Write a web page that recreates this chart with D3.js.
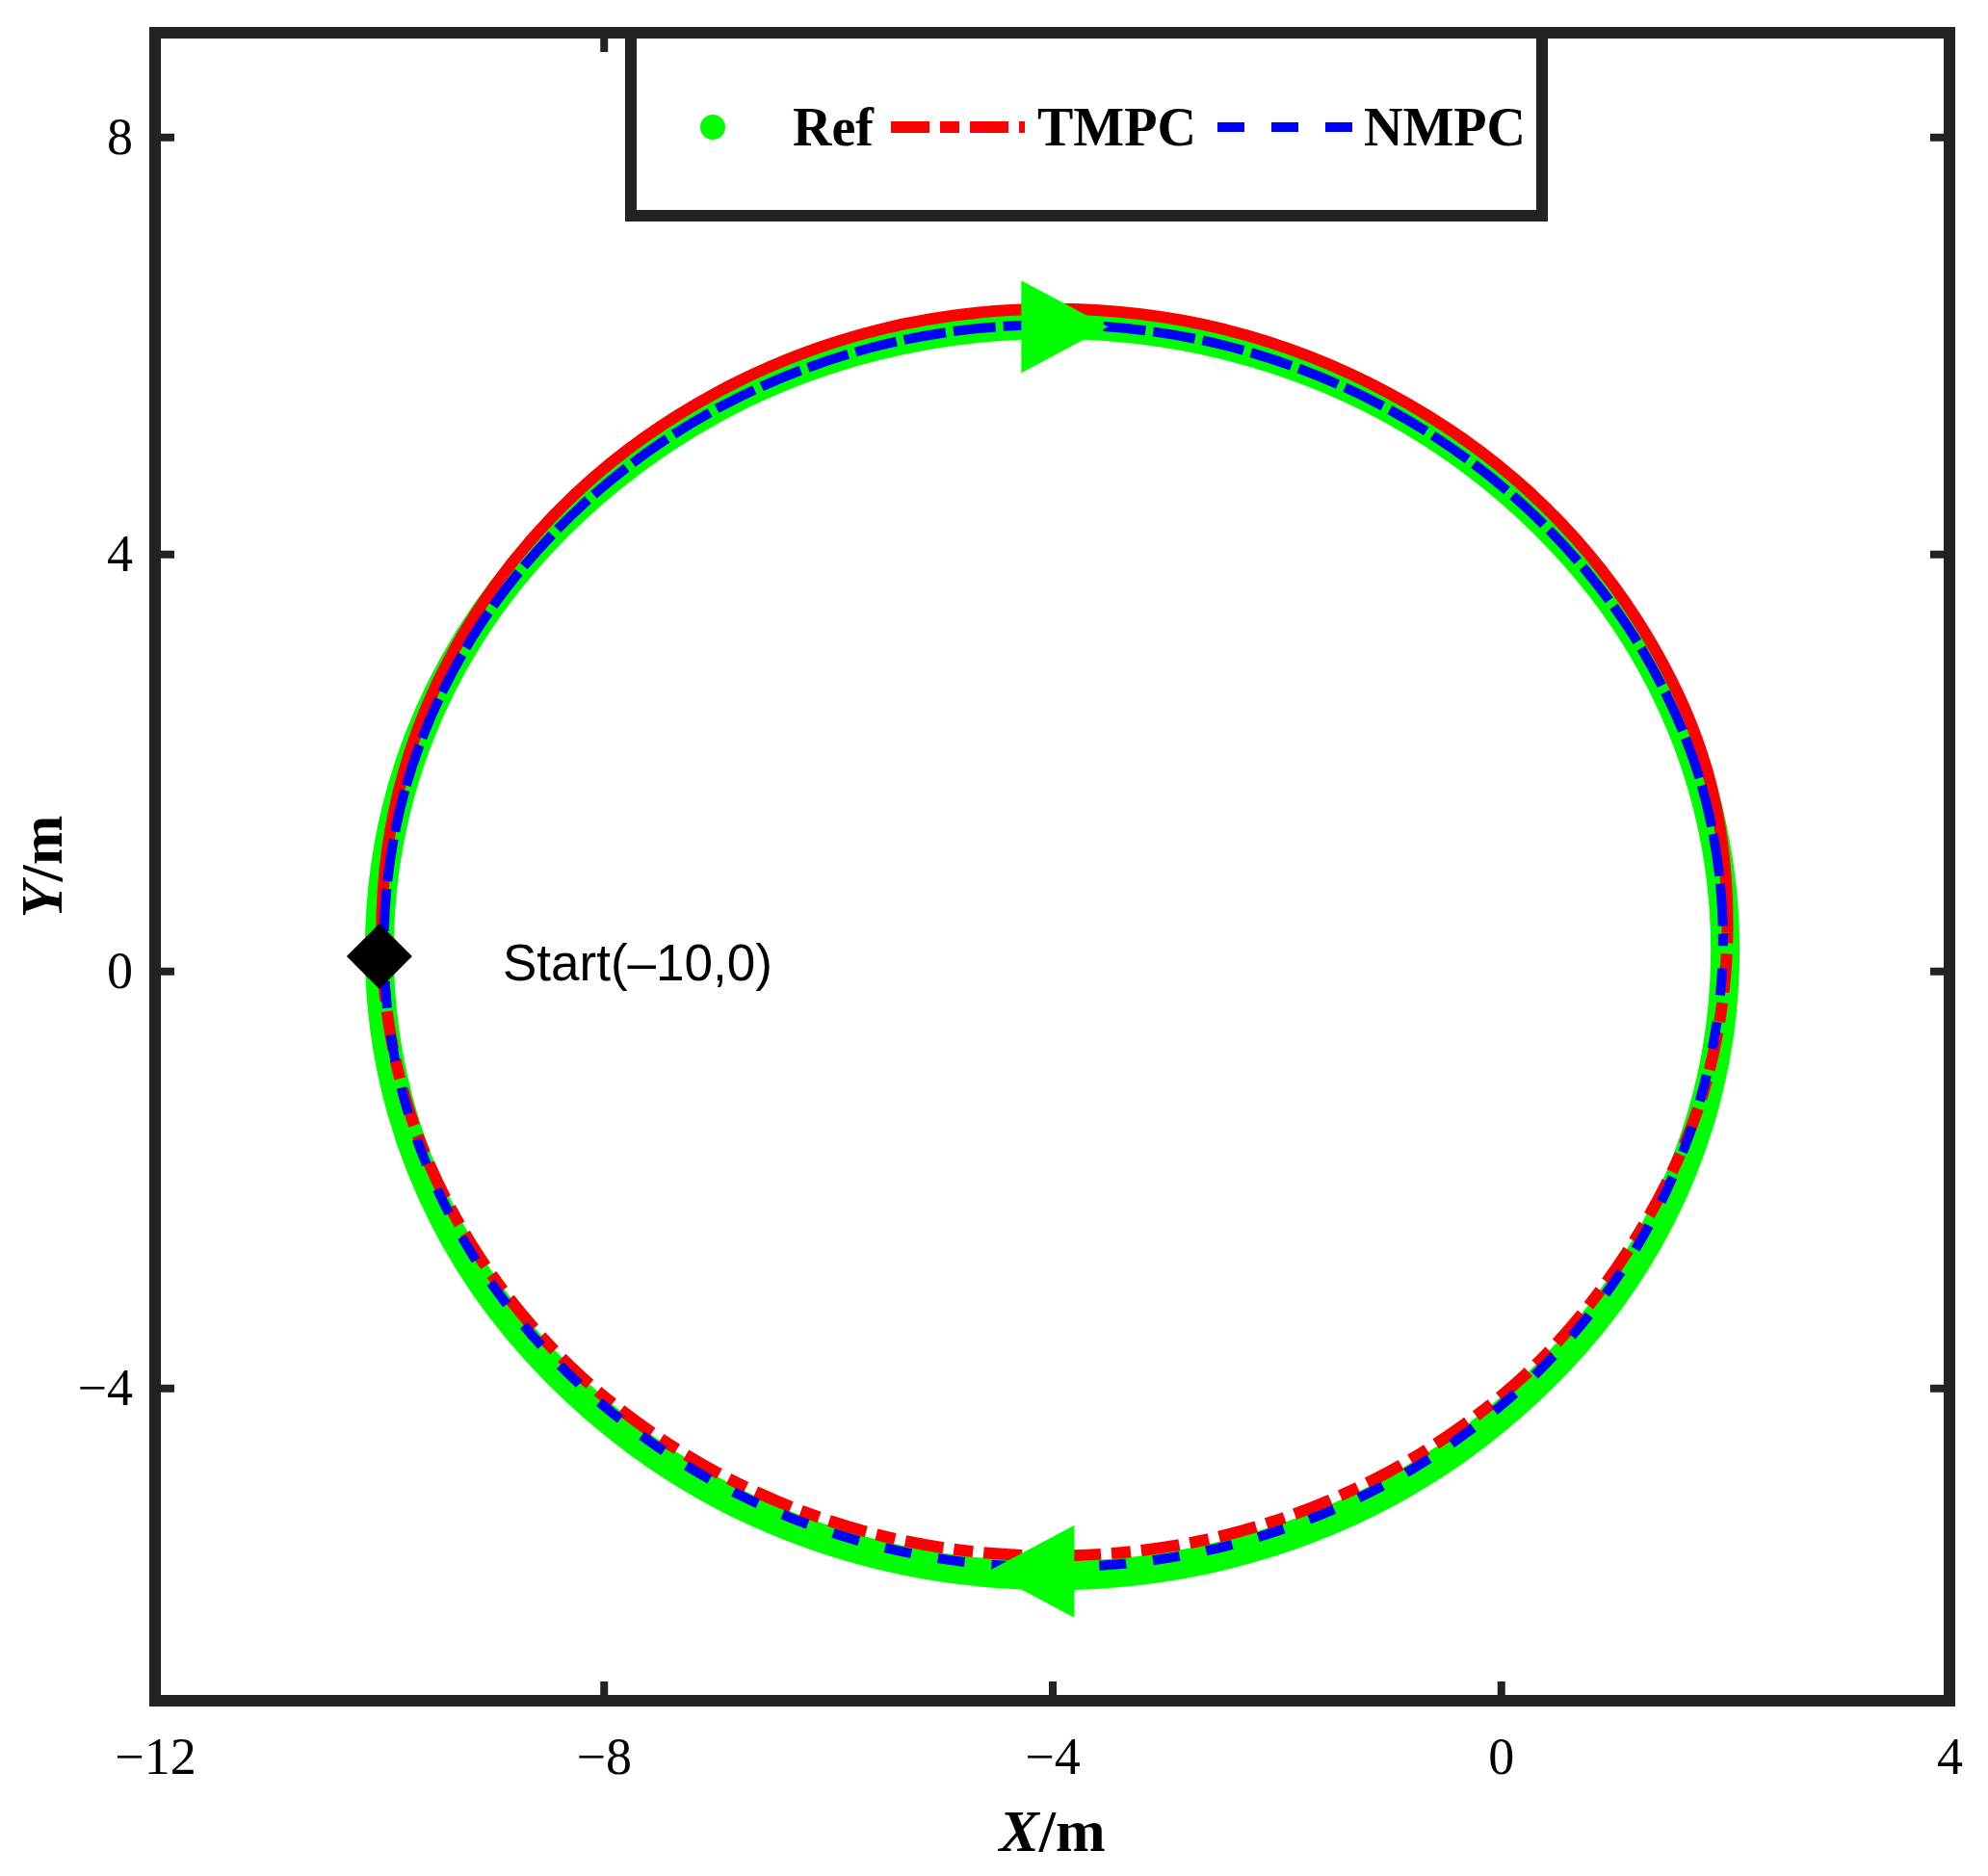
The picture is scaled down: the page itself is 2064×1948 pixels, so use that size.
<!DOCTYPE html>
<html lang="en">
<head>
    <meta charset="utf-8">
    <title>Trajectory</title>
    <style>
        body{ margin:0; background:#fff; }
        #chart{ width:2064px; height:1948px; }
    </style>
    <script src="https://d3js.org/d3.v7.min.js"></script>
</head>
<body>
<div id="chart"></div>
<script>
    // tick values
    var xTicks = [-12, -8, -4, 0, 4];
    var yTicks = [-4, 0, 4, 8];

    // reference path (every 15 deg, clockwise from the start point)
    var refX = [-10.00, -9.80, -9.20, -8.24, -7.00, -5.55, -4.00, -2.45, -1.00, 0.24, 1.20, 1.80,
                2.00, 1.80, 1.20, 0.24, -1.00, -2.45, -4.00, -5.55, -7.00, -8.24, -9.20, -9.80];
    var refY = [0.20, 1.75, 3.20, 4.44, 5.40, 6.00, 6.20, 6.00, 5.40, 4.44, 3.20, 1.75,
                0.20, -1.35, -2.80, -4.04, -5.00, -5.60, -5.80, -5.60, -5.00, -4.04, -2.80, -1.35];

    // TMPC trajectory
    var tmpcX = [-9.98, -9.78, -9.18, -8.23, -6.99, -5.55, -4.00, -2.45, -1.01, 0.25, 1.22, 1.84,
                 2.02, 1.80, 1.17, 0.23, -1.01, -2.45, -4.00, -5.55, -6.99, -8.23, -9.18, -9.78];
    var tmpcY = [0.37, 1.92, 3.36, 4.60, 5.55, 6.15, 6.35, 6.15, 5.55, 4.60, 3.36, 1.92,
                 0.37, -1.18, -2.62, -3.86, -4.81, -5.41, -5.61, -5.41, -4.81, -3.86, -2.62, -1.18];

    // NMPC trajectory
    var nmpcX = [-9.96, -9.76, -9.16, -8.21, -6.98, -5.54, -4.00, -2.46, -1.02, 0.22, 1.18, 1.79,
                 1.98, 1.76, 1.16, 0.21, -1.02, -2.46, -4.00, -5.54, -6.98, -8.21, -9.16, -9.76];
    var nmpcY = [0.24, 1.78, 3.22, 4.45, 5.40, 6.00, 6.20, 6.00, 5.40, 4.45, 3.22, 1.78,
                 0.24, -1.30, -2.74, -3.97, -4.92, -5.52, -5.72, -5.52, -4.92, -3.97, -2.74, -1.30];

    // direction arrows and start point
    var arrowX = [-3.89, -4.19];
    var arrowY = [6.18, -5.76];
    var arrowDir = [1, -1];
    var startX = -10, startY = 0.14;
    var startText = "Start(\u201310,0)";

    var W = 2064, H = 1948;
    var L = 161, R = 2024, T = 34, B = 1766;
    var ink = "#222";
    var serif = "'Times New Roman','Liberation Serif',serif";

    var svg = d3.select('#chart').append('svg')
        .attr('width', W).attr('height', H)
        .style('background', '#fff');

    var x = d3.scaleLinear().domain([-12, 4]).range([L, R]);
    var y = d3.scaleLinear().domain([-7, 9]).range([B, T]);

    function pts(xs, ys) { return xs.map(function (v, i) { return [v, ys[i]]; }); }
    var line = d3.line()
        .x(function (d) { return x(d[0]); })
        .y(function (d) { return y(d[1]); })
        .curve(d3.curveCatmullRomClosed);

    // clip regions: first half of the run (upper) and second half (lower)
    var defs = svg.append('defs');
    function addClip(id, y0, y1) {
        defs.append('clipPath').attr('id', id)
            .append('rect').attr('x', L).attr('y', y0).attr('width', R - L).attr('height', y1 - y0);
    }
    addClip('upT', T, y(tmpcY[12]));
    addClip('loT', y(tmpcY[12]), B);
    addClip('upN', T, y(nmpcY[12]));
    addClip('loN', y(nmpcY[12]), B);

    var plot = svg.append('g').attr('class', 'plot');

    // Ref
    plot.append('path')
        .datum(pts(refX, refY))
        .attr('d', line)
        .attr('fill', 'none')
        .attr('stroke', '#00ff00')
        .attr('stroke-width', 30)
        .attr('stroke-linejoin', 'round');

    // TMPC
    plot.append('path')
        .datum(pts(tmpcX, tmpcY))
        .attr('d', line)
        .attr('clip-path', 'url(#upT)')
        .attr('fill', 'none')
        .attr('stroke', '#ff0000')
        .attr('stroke-width', 12);
    plot.append('path')
        .datum(pts(tmpcX, tmpcY))
        .attr('d', line)
        .attr('clip-path', 'url(#loT)')
        .attr('fill', 'none')
        .attr('stroke', '#ff0000')
        .attr('stroke-width', 12)
        .attr('stroke-dasharray', '40 11 20 11');

    // NMPC
    plot.append('path')
        .datum(pts(nmpcX, nmpcY))
        .attr('d', line)
        .attr('clip-path', 'url(#upN)')
        .attr('fill', 'none')
        .attr('stroke', '#0000ff')
        .attr('stroke-width', 10)
        .attr('stroke-dasharray', '44 8');
    plot.append('path')
        .datum(pts(nmpcX, nmpcY))
        .attr('d', line)
        .attr('clip-path', 'url(#loN)')
        .attr('fill', 'none')
        .attr('stroke', '#0000ff')
        .attr('stroke-width', 10)
        .attr('stroke-dasharray', '28 28');

    // arrows
    plot.selectAll('.arrow')
        .data(arrowX.map(function (v, i) { return { x: v, y: arrowY[i], d: arrowDir[i] }; }))
        .enter().append('path')
        .attr('class', 'arrow')
        .attr('d', function (d) {
            var cx = x(d.x), cy = y(d.y), h = 45 * d.d;
            return 'M' + (cx - h) + ',' + (cy - 48) + 'L' + (cx + h) + ',' + cy + 'L' + (cx - h) + ',' + (cy + 48) + 'Z';
        })
        .attr('fill', '#00ff00');

    // start marker
    plot.append('path')
        .attr('d', d3.symbol().type(d3.symbolSquare).size(2312))
        .attr('transform', 'translate(' + x(startX) + ',' + y(startY) + ') rotate(45)')
        .attr('fill', '#000');
    plot.append('text')
        .attr('x', x(-8.9)).attr('y', y(-0.09))
        .attr('font-family', "Arial,'Liberation Sans',sans-serif")
        .attr('font-size', 53)
        .attr('fill', '#000')
        .text(startText);

    // axes (ticks pointing inward on all four sides)
    function styleAxis(g) {
        g.select('.domain').remove();
        g.selectAll('.tick line').attr('stroke', ink).attr('stroke-width', 8);
        g.selectAll('.tick text')
            .attr('font-family', serif)
            .attr('font-size', 54)
            .attr('fill', '#000');
    }
    var fmt = function (d) { return d < 0 ? '\u2212' + Math.abs(d) : String(d); };

    svg.append('g').attr('transform', 'translate(0,' + B + ')')
        .call(d3.axisBottom(x).tickValues(xTicks).tickFormat(fmt).tickSizeInner(-20).tickSizeOuter(0).tickPadding(38))
        .call(styleAxis);
    svg.append('g').attr('transform', 'translate(0,' + T + ')')
        .call(d3.axisTop(x).tickValues(xTicks).tickFormat('').tickSizeInner(-20).tickSizeOuter(0))
        .call(styleAxis);
    svg.append('g').attr('transform', 'translate(' + L + ',0)')
        .call(d3.axisLeft(y).tickValues(yTicks).tickFormat(fmt).tickSizeInner(-20).tickSizeOuter(0).tickPadding(23))
        .call(styleAxis);
    svg.append('g').attr('transform', 'translate(' + R + ',0)')
        .call(d3.axisRight(y).tickValues(yTicks).tickFormat('').tickSizeInner(-20).tickSizeOuter(0))
        .call(styleAxis);

    // frame
    svg.append('rect')
        .attr('x', L).attr('y', T).attr('width', R - L).attr('height', B - T)
        .attr('fill', 'none').attr('stroke', ink).attr('stroke-width', 12);

    // axis labels
    var xl = svg.append('text')
        .attr('x', (L + R) / 2).attr('y', 1922)
        .attr('text-anchor', 'middle')
        .attr('font-family', serif).attr('font-size', 62).attr('font-weight', 'bold');
    xl.append('tspan').attr('font-style', 'italic').text('X');
    xl.append('tspan').text('/m');

    var yl = svg.append('text')
        .attr('transform', 'translate(64,' + ((T + B) / 2) + ') rotate(-90)')
        .attr('text-anchor', 'middle')
        .attr('font-family', serif).attr('font-size', 62).attr('font-weight', 'bold');
    yl.append('tspan').attr('font-style', 'italic').text('Y');
    yl.append('tspan').text('/m');

    // legend
    var lg = svg.append('g').attr('class', 'legend');
    lg.append('rect')
        .attr('x', 655).attr('y', T).attr('width', 946).attr('height', 190)
        .attr('fill', '#fff').attr('stroke', ink).attr('stroke-width', 12);
    lg.append('circle').attr('cx', 740).attr('cy', 132).attr('r', 13).attr('fill', '#00ff00');
    lg.append('line').attr('x1', 925).attr('x2', 1064).attr('y1', 132).attr('y2', 132)
        .attr('stroke', '#ff0000').attr('stroke-width', 12).attr('stroke-dasharray', '40 11 20 11');
    lg.append('line').attr('x1', 1264).attr('x2', 1408).attr('y1', 132).attr('y2', 132)
        .attr('stroke', '#0000ff').attr('stroke-width', 10).attr('stroke-dasharray', '28 28');
    var names = [['Ref', 823], ['TMPC', 1077], ['NMPC', 1416]];
    lg.selectAll('.lt').data(names).enter().append('text')
        .attr('class', 'lt')
        .attr('x', function (d) { return d[1]; })
        .attr('y', 151)
        .attr('font-family', serif).attr('font-size', 56).attr('font-weight', 'bold')
        .text(function (d) { return d[0]; });
</script>
</body>
</html>
